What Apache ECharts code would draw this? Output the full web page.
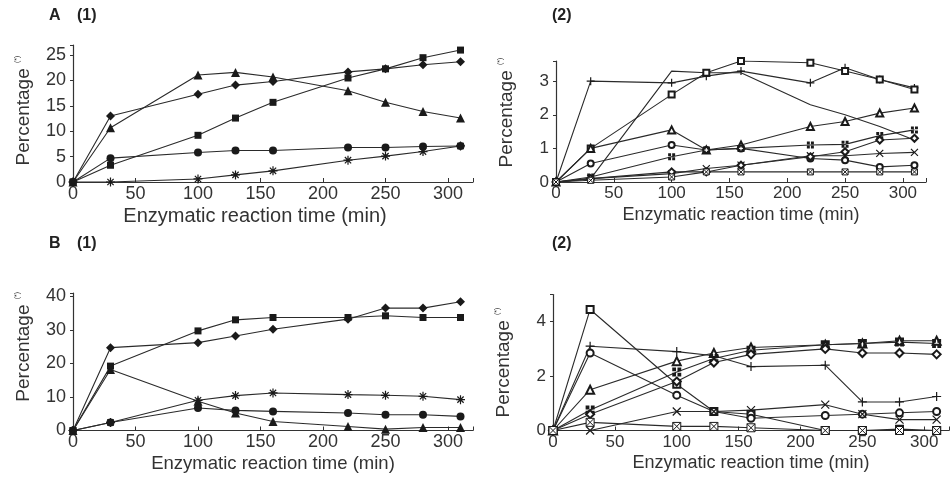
<!DOCTYPE html>
<html>
<head>
<meta charset="utf-8">
<script src="https://cdn.jsdelivr.net/npm/echarts@6/dist/echarts.min.js"></script>
<style>
html,body{margin:0;padding:0;background:#fff;}
#chart{width:952px;height:483px;}
</style>
</head>
<body>
<div id="chart"></div>
<script>
// Shared x values (min)
const times = [0, 30, 100, 130, 160, 220, 250, 280, 310];
const xTicks = [0, 50, 100, 150, 200, 250, 300];
const xName = 'Enzymatic reaction time (min)';
const yName = 'Percentage {s|(*)}';

// Panel A (1)
const a1Square   = [0, 3.3, 9.2, 12.6, 15.7, 20.5, 22.3, 24.5, 26.0];
const a1Diamond  = [0, 13.0, 17.3, 19.1, 19.8, 21.7, 22.3, 23.1, 23.7];
const a1Triangle = [0, 10.7, 21.1, 21.6, 20.7, 18.0, 15.7, 13.9, 12.6];
const a1Circle   = [0, 4.7, 5.8, 6.2, 6.2, 6.8, 6.8, 7.0, 7.1];
const a1Star     = [0, 0, 0.6, 1.4, 2.2, 4.3, 5.1, 6.0, 7.1];

// Panel A (2)
const a2Plus     = [0, 3.0, 2.95, 3.15, 3.3, 2.95, 3.4, 3.05, 2.8];
const a2Dash     = [0, 0.1, 3.3, 3.25, 3.25, 2.3, 2.0, 1.65, 1.25];
const a2OpenSq   = [0, 1.0, 2.6, 3.25, 3.6, 3.55, 3.3, 3.05, 2.75];
const a2Triangle = [0, 1.0, 1.55, 0.95, 1.1, 1.65, 1.8, 2.05, 2.2];
const a2Circle   = [0, 0.55, 1.1, 0.95, 1.0, 0.7, 0.65, 0.45, 0.5];
const a2SqCross  = [0, 0.15, 0.75, 0.95, 1.0, 1.1, 1.12, 1.38, 1.55];
const a2X        = [0, 0.1, 0.25, 0.4, 0.5, 0.78, 0.78, 0.85, 0.88];
const a2Diamond  = [0, 0.1, 0.3, 0.3, 0.5, 0.75, 0.9, 1.25, 1.3];
const a2SqX      = [0, 0.05, 0.15, 0.3, 0.3, 0.3, 0.3, 0.3, 0.3];

// Panel B (1)
const b1Diamond  = [0, 24.7, 26.2, 28.2, 30.2, 33.2, 36.5, 36.5, 38.4];
const b1Square   = [0, 19.2, 29.7, 33.0, 33.7, 33.7, 34.2, 33.7, 33.7];
const b1Triangle = [0, 18.2, 8.7, 5.2, 2.7, 1.2, 0.4, 0.9, 0.9];
const b1Circle   = [0, 2.4, 6.7, 6.0, 5.7, 5.2, 4.7, 4.7, 4.2];
const b1Star     = [0, 2.4, 9.0, 10.4, 11.2, 10.7, 10.5, 10.2, 9.2];

// Panel B (2)
const b2OpenSq   = [0, 4.45, 1.7, 0.7, 0.6, 0.0, 0.0, 0.05, 0.0];
const b2Plus     = [0, 3.1, 2.9, 2.75, 2.35, 2.4, 1.05, 1.05, 1.25];
const b2Circle   = [0, 2.85, 1.3, 0.7, 0.45, 0.55, 0.6, 0.65, 0.7];
const b2Triangle = [0, 1.5, 2.55, 2.85, 3.05, 3.15, 3.2, 3.3, 3.3];
const b2SqCross  = [0, 0.75, 2.15, 2.65, 2.95, 3.15, 3.2, 3.25, 3.2];
const b2Diamond  = [0, 0.6, 1.8, 2.5, 2.8, 3.0, 2.85, 2.85, 2.8];
const b2X        = [0, 0.0, 0.7, 0.7, 0.75, 0.95, 0.6, 0.4, 0.4];
const b2SqX      = [0, 0.3, 0.15, 0.15, 0.1, 0, 0, 0, 0];

const INK = '#1a1a1a';
const FONT = 'Liberation Sans';
const SYM = {
  star: 'path://M0,5H10M5,0V10M1.5,1.5L8.5,8.5M8.5,1.5L1.5,8.5',
  plus: 'path://M0,5H10M5,0V10',
  x: 'path://M0,0L10,10M10,0L0,10',
  dash: 'path://M0,5H10',
  sqx: 'path://M0,0H10V10H0ZM0,0L10,10M10,0L0,10',
  sqplus: 'path://M0,0H4.2V4.2H0ZM5.8,0H10V4.2H5.8ZM0,5.8H4.2V10H0ZM5.8,5.8H10V10H5.8Z'
};

function pairs(vals){ return times.map((t,i)=>[t, vals[i]]); }

function ser(idx, vals, symbol, size, kind){
  let itemStyle;
  if (kind === 'fill') itemStyle = {color: INK};
  else if (kind === 'stroke') itemStyle = {color: 'rgba(0,0,0,0)', borderColor: INK, borderWidth: 1.2};
  else if (kind === 'box') itemStyle = {color: '#fff', borderColor: INK, borderWidth: 1};
  else itemStyle = {color: INK, borderWidth: 1.1};
  return {
    type: 'line', xAxisIndex: idx, yAxisIndex: idx,
    data: pairs(vals), symbol: symbol, symbolSize: size, showAllSymbol: true,
    lineStyle: {color: '#2a2a2a', width: 1.1}, itemStyle: itemStyle,
    emphasis: {disabled: true}, z: 3
  };
}

const grids = [
  {left: 73, top: 45, width: 400, height: 137},
  {left: 556, top: 61, width: 370, height: 121},
  {left: 73, top: 293, width: 400, height: 137.5},
  {left: 553, top: 294.5, width: 398, height: 136}
];
const yMax = [27, 3.6, 41, 5];
const yInt = [5, 1, 10, 2];
const xNamePad = [[0, 36, 0, 0], [0,0,0,0], [0,0,0,0], [0,0,0,0]];
const yNamePad = [[0, 0, 0, 6], [0, 0, 0, 18], [0, 0, 0, 30], [0,0,0,0]];
const fs = [18, 17, 18, 17];
const nfs = [20, 18, 18.5, 18];

const xAxes = grids.map((g,i)=>({
  gridIndex: i, type: 'value', min: 0, max: 320, interval: 50,
  axisLine: {show: true, onZero: false, lineStyle: {color: '#333', width: 1.2}},
  axisTick: {show: true, inside: true, length: 4, lineStyle: {color: '#333'}},
  splitLine: {show: false},
  axisLabel: {color: '#333', fontFamily: FONT, fontSize: fs[i], margin: 3,
    formatter: v => xTicks.indexOf(v) >= 0 ? String(v) : ''},
  name: xName, nameLocation: 'middle', nameGap: 24,
  nameTextStyle: {color: '#333', fontFamily: FONT, fontSize: nfs[i], padding: xNamePad[i]}
}));
const yAxes = grids.map((g,i)=>({
  gridIndex: i, type: 'value', min: 0, max: yMax[i], interval: yInt[i],
  axisLine: {show: true, lineStyle: {color: '#333', width: 1.2}},
  axisTick: {show: true, inside: false, length: 3, lineStyle: {color: '#333'}},
  splitLine: {show: false},
  axisLabel: {color: '#333', fontFamily: FONT, fontSize: fs[i], margin: 7,
    formatter: v => (Math.abs(v / yInt[i] - Math.round(v / yInt[i])) < 1e-6) ? String(v) : ''},
  name: yName, nameLocation: 'middle', nameGap: 40,
  nameTextStyle: {color: '#333', fontFamily: FONT, fontSize: 19, padding: yNamePad[i],
    rich: {s: {fontSize: 7, color: '#333', fontFamily: FONT, verticalAlign: 'top', padding: [0,0,10,0]}}}
}));

const titleStyle = {fontFamily: FONT, fontSize: 16, fontWeight: 'bold', color: '#222'};
const option = {
  backgroundColor: '#fff',
  animation: false,
  title: [
    {text: 'A', left: 49, top: 8, textStyle: titleStyle, padding: 0},
    {text: '(1)', left: 77, top: 8, textStyle: titleStyle, padding: 0},
    {text: '(2)', left: 552, top: 8, textStyle: titleStyle, padding: 0},
    {text: 'B', left: 49, top: 236, textStyle: titleStyle, padding: 0},
    {text: '(1)', left: 77, top: 236, textStyle: titleStyle, padding: 0},
    {text: '(2)', left: 552, top: 236, textStyle: titleStyle, padding: 0}
  ],
  grid: grids,
  xAxis: xAxes,
  yAxis: yAxes,
  series: [
    ser(0, a1Square, 'rect', 7, 'fill'),
    ser(0, a1Diamond, 'diamond', 9, 'fill'),
    ser(0, a1Triangle, 'triangle', 9, 'fill'),
    ser(0, a1Circle, 'circle', 8, 'fill'),
    ser(0, a1Star, SYM.star, 9, 'stroke'),

    ser(1, a2Plus, SYM.plus, 8, 'stroke'),
    ser(1, a2Dash, SYM.dash, 8, 'stroke'),
    ser(1, a2OpenSq, 'emptyRect', 6, 'empty'),
    ser(1, a2Triangle, 'emptyTriangle', 7, 'empty'),
    ser(1, a2Circle, 'emptyCircle', 6, 'empty'),
    ser(1, a2SqCross, SYM.sqplus, 7, 'fill'),
    ser(1, a2X, SYM.x, 7, 'stroke'),
    ser(1, a2Diamond, 'emptyDiamond', 7, 'empty'),
    ser(1, a2SqX, SYM.sqx, 6, 'box'),

    ser(2, b1Diamond, 'diamond', 9, 'fill'),
    ser(2, b1Square, 'rect', 7, 'fill'),
    ser(2, b1Triangle, 'triangle', 9, 'fill'),
    ser(2, b1Circle, 'circle', 8, 'fill'),
    ser(2, b1Star, SYM.star, 9, 'stroke'),

    ser(3, b2OpenSq, 'emptyRect', 7, 'empty'),
    ser(3, b2Plus, SYM.plus, 9, 'stroke'),
    ser(3, b2Circle, 'emptyCircle', 7, 'empty'),
    ser(3, b2Triangle, 'emptyTriangle', 8, 'empty'),
    ser(3, b2SqCross, SYM.sqplus, 9, 'fill'),
    ser(3, b2Diamond, 'emptyDiamond', 8, 'empty'),
    ser(3, b2X, SYM.x, 8, 'stroke'),
    ser(3, b2SqX, SYM.sqx, 8, 'box')
  ]
};
const chart = echarts.init(document.getElementById('chart'), null, {renderer: 'canvas'});
chart.setOption(option);
</script>
</body>
</html>
